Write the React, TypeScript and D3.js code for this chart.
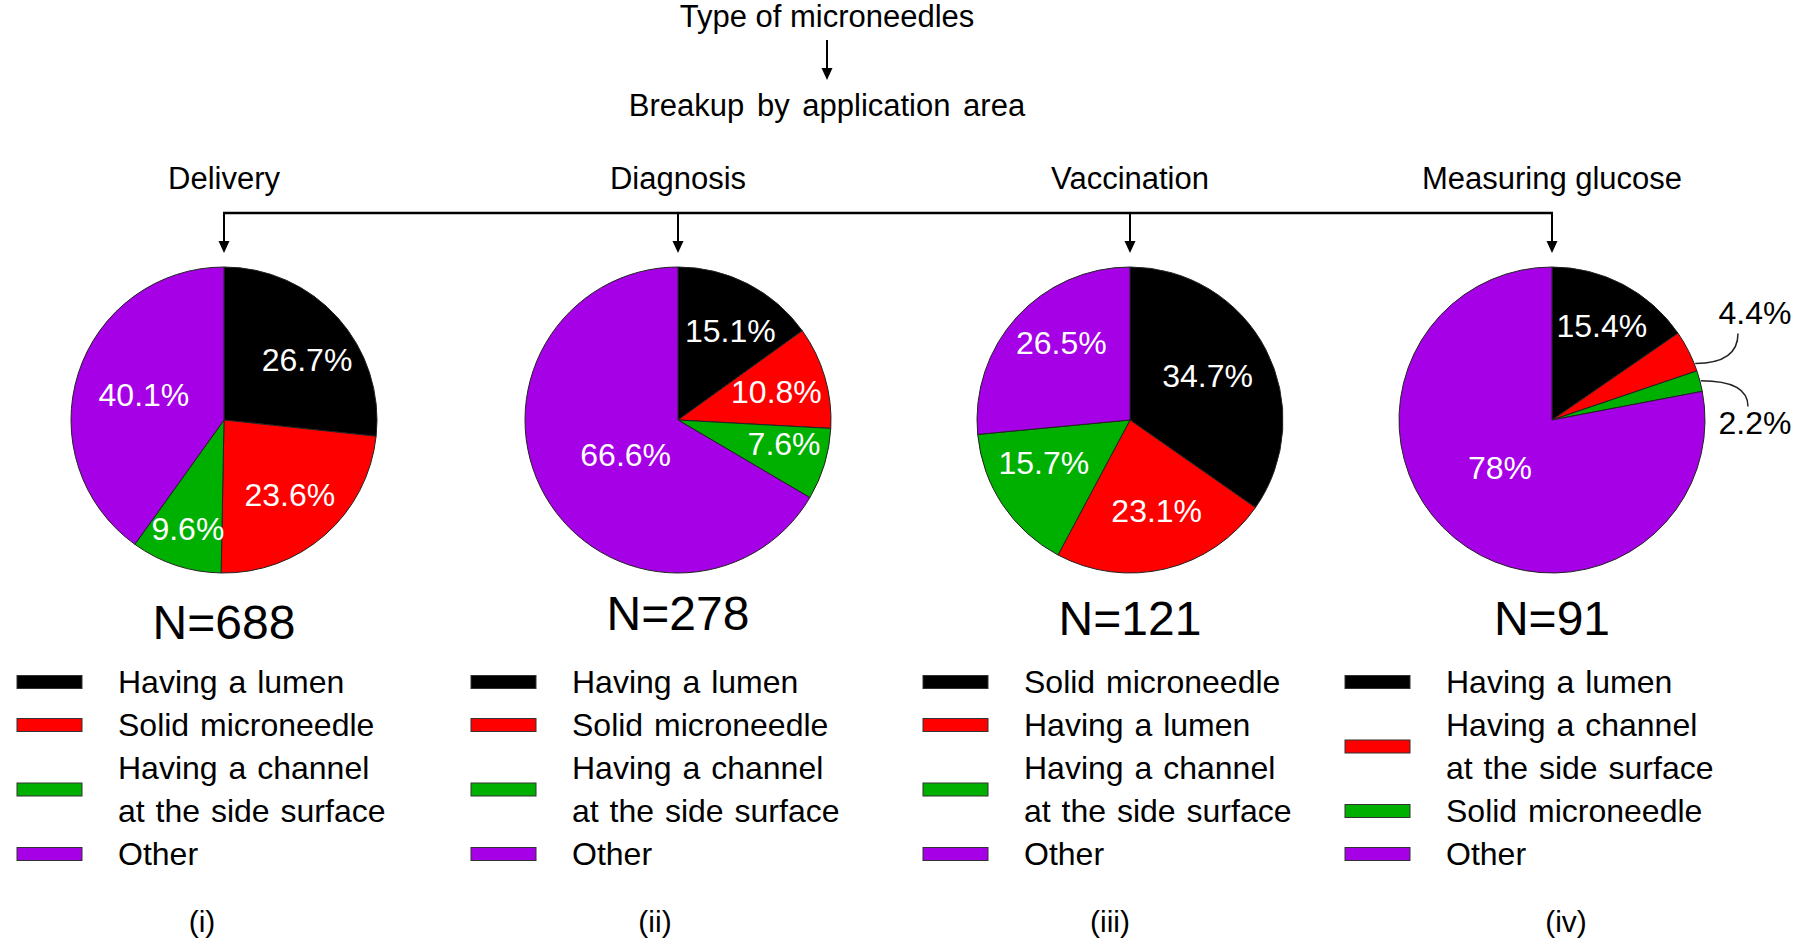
import React from 'react';
import * as d3 from 'd3';

// ---------- data ----------
const sliceColors = ['#000000', '#ff0000', '#00b000', '#a500e6'];
const areas = ['Delivery', 'Diagnosis', 'Vaccination', 'Measuring glucose'];
const sampleSizes = [688, 278, 121, 91];
const numerals = ['(i)', '(ii)', '(iii)', '(iv)'];

const deliveryValues = [26.7, 23.6, 9.6, 40.1];
const diagnosisValues = [15.1, 10.8, 7.6, 66.6];
const vaccinationValues = [34.7, 23.1, 15.7, 26.5];
const glucoseValues = [15.4, 4.4, 2.2, 78];

const deliveryTypes = [['Having a lumen'], ['Solid microneedle'], ['Having a channel', 'at the side surface'], ['Other']];
const diagnosisTypes = [['Having a lumen'], ['Solid microneedle'], ['Having a channel', 'at the side surface'], ['Other']];
const vaccinationTypes = [['Solid microneedle'], ['Having a lumen'], ['Having a channel', 'at the side surface'], ['Other']];
const glucoseTypes = [['Having a lumen'], ['Having a channel', 'at the side surface'], ['Solid microneedle'], ['Other']];

const titleTop = 'Type of microneedles';
const titleBottom = 'Breakup by application area';

// ---------- layout ----------
const W = 1800;
const H = 944;
const FONT = '"Liberation Sans", Arial, Helvetica, sans-serif';
const CX = [224, 678, 1130, 1552];
const CY = 420;
const R = 153;
// radial position of in-slice labels (fraction of radius); 0 = outside callout
const LABEL_R = [
  [0.67, 0.65, 0.75, 0.55],
  [0.68, 0.67, 0.71, 0.41],
  [0.585, 0.614, 0.627, 0.675],
  [0.7, 0, 0, 0.46],
];
// angular nudge of in-slice labels (degrees, clockwise)
const LABEL_ANG = [
  [6, 0, 0, 0],
  [3, 0, -4.4, -3.7],
  [-2.3, -3, 7.7, 6],
  [0, 0, 0, 8],
];
// outside callouts (pie 4): label offset from centre, anchor fraction in slice, leader end offset from label
const CALLOUTS: Record<number, { dx: number; dy: number; frac: number; ex: number; ey: number }> = {
  1: { dx: 203, dy: -107.5, frac: 0.82, ex: -17, ey: 21 },
  2: { dx: 203, dy: 2.5, frac: 0.5, ex: -7, ey: -16 },
};
const N_BASE = [639, 630, 635, 635];
const NUM_X = [202, 655, 1110, 1566];
const LEG_Y0 = 693;
const LEG_STEP = 43;

const seriesValues = [deliveryValues, diagnosisValues, vaccinationValues, glucoseValues];
const seriesTypes = [deliveryTypes, diagnosisTypes, vaccinationTypes, glucoseTypes];

function Arrow({ x, y1, y2 }: { x: number; y1: number; y2: number }) {
  return (
    <g>
      <line x1={x} y1={y1} x2={x} y2={y2 - 10} stroke="#000" strokeWidth={2} />
      <path d={`M${x - 5.5},${y2 - 12} L${x + 5.5},${y2 - 12} L${x},${y2} Z`} fill="#000" />
    </g>
  );
}

function Pie({ idx }: { idx: number }) {
  const values = seriesValues[idx];
  const cx = CX[idx];
  const pie = d3.pie<number>().sort(null).value((d) => d);
  const arcs = pie(values);
  const arc = d3.arc<d3.PieArcDatum<number>>().innerRadius(0).outerRadius(R);
  return (
    <g>
      <g transform={`translate(${cx},${CY})`}>
        {arcs.map((a, i) => (
          <path key={i} d={arc(a) || ''} fill={sliceColors[i]} stroke="#222" strokeWidth={1} />
        ))}
        {arcs.map((a, i) => {
          const lr = LABEL_R[idx][i];
          const text = `${a.data}%`;
          if (lr > 0) {
            const mid = (a.startAngle + a.endAngle) / 2 + (LABEL_ANG[idx][i] * Math.PI) / 180;
            const x = Math.sin(mid) * R * lr;
            const y = -Math.cos(mid) * R * lr;
            return (
              <text key={'l' + i} x={x} y={y} dy="0.36em" textAnchor="middle" fill="#fff"
                fontSize={32} fontFamily={FONT}>{text}</text>
            );
          }
          const c = CALLOUTS[i];
          const ang = a.startAngle + (a.endAngle - a.startAngle) * c.frac;
          const px = Math.sin(ang) * (R + 1);
          const py = -Math.cos(ang) * (R + 1);
          const ex = c.dx + c.ex;
          const ey = c.dy + c.ey;
          return (
            <g key={'c' + i}>
              <path d={`M${px},${py} Q${ex},${py} ${ex},${ey}`} fill="none" stroke="#222" strokeWidth={1.5} />
              <text x={c.dx} y={c.dy} dy="0.36em" textAnchor="middle" fill="#000"
                fontSize={32} fontFamily={FONT}>{text}</text>
            </g>
          );
        })}
      </g>
      <text x={cx} y={N_BASE[idx]} textAnchor="middle" fontSize={48} fontFamily={FONT} fill="#000">
        {`N=${sampleSizes[idx]}`}
      </text>
    </g>
  );
}

function Legend({ idx }: { idx: number }) {
  const types = seriesTypes[idx];
  const sx = CX[idx] - 207;
  const tx = sx + 101;
  let line = 0;
  const items: React.ReactNode[] = [];
  types.forEach((lines, i) => {
    const first = line;
    const texts = lines.map((t, j) => (
      <text key={`t${i}-${j}`} x={tx} y={LEG_Y0 + (first + j) * LEG_STEP} fontSize={32}
        fontFamily={FONT} fill="#000" wordSpacing={2}>{t}</text>
    ));
    line += lines.length;
    const centre = LEG_Y0 + ((first + line - 1) / 2) * LEG_STEP - 11;
    items.push(
      <g key={i}>
        <rect x={sx} y={centre - 6.5} width={65} height={13} fill={sliceColors[i]} stroke="#333" strokeWidth={1} />
        {texts}
      </g>
    );
  });
  return (
    <g>
      {items}
      <text x={NUM_X[idx]} y={932} textAnchor="middle" fontSize={30} fontFamily={FONT} fill="#000">
        {numerals[idx]}
      </text>
    </g>
  );
}

export default function App() {
  const lineY = 213;
  return (
    <svg width={W} height={H} style={{ position: 'absolute', left: 0, top: 0, background: '#fff' }}>
      <rect x={0} y={0} width={W} height={H} fill="#fff" />
      <text x={827} y={27} textAnchor="middle" fontSize={31} fontFamily={FONT} fill="#000">{titleTop}</text>
      <Arrow x={827} y1={40} y2={80} />
      <text x={827} y={116} textAnchor="middle" fontSize={31} fontFamily={FONT} fill="#000" wordSpacing={4}>
        {titleBottom}
      </text>
      {areas.map((a, i) => (
        <text key={a} x={CX[i]} y={189} textAnchor="middle" fontSize={31} fontFamily={FONT} fill="#000">{a}</text>
      ))}
      <line x1={CX[0] - 1} x2={CX[3] + 1} y1={lineY} y2={lineY} stroke="#000" strokeWidth={2.5} />
      {areas.map((a, i) => (
        <Arrow key={'ar' + i} x={CX[i]} y1={lineY} y2={253} />
      ))}
      {areas.map((a, i) => (
        <Pie key={'p' + i} idx={i} />
      ))}
      {areas.map((a, i) => (
        <Legend key={'lg' + i} idx={i} />
      ))}
    </svg>
  );
}
